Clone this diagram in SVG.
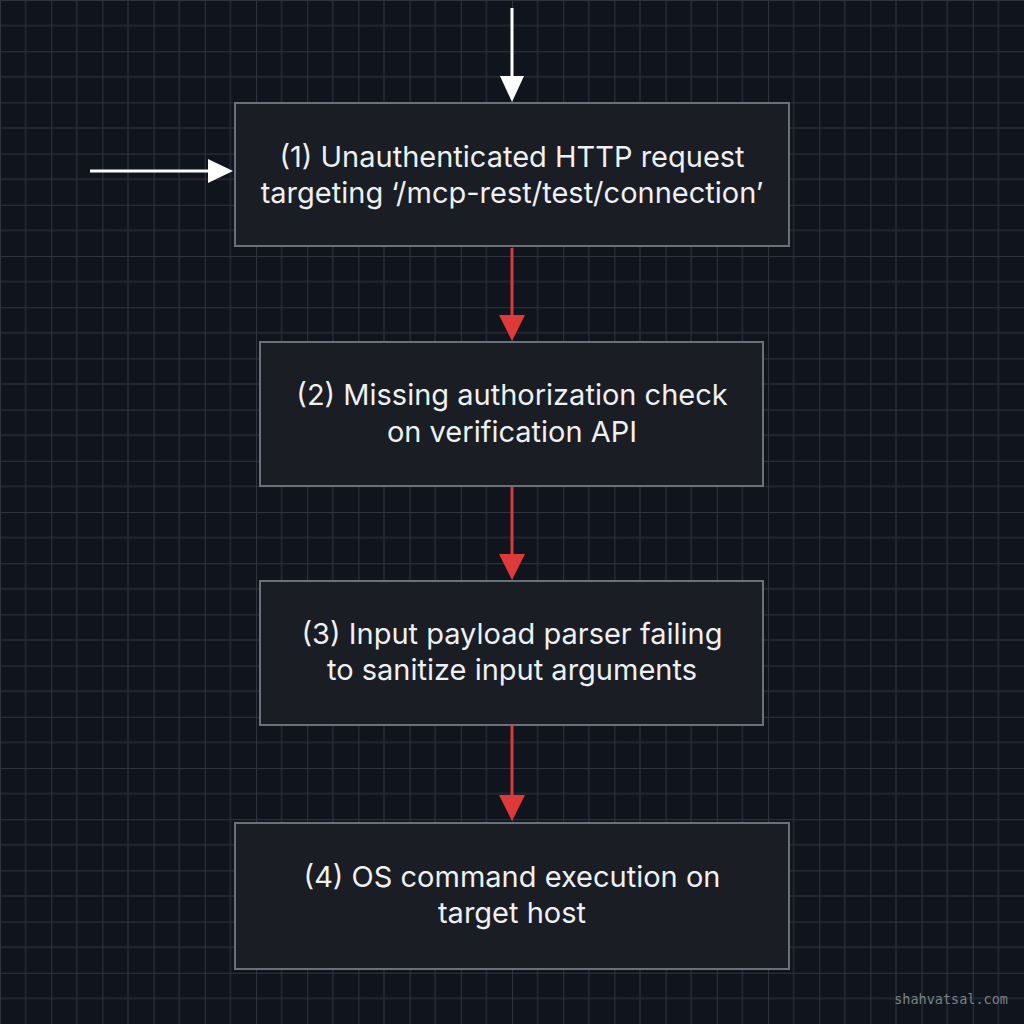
<svg xmlns="http://www.w3.org/2000/svg" width="1024" height="1024" viewBox="0 0 1024 1024">
<defs>
<pattern id="grid" width="51.2" height="51.2" patternUnits="userSpaceOnUse">
<path d="M25.6 0V51.2M0 25.6H51.2" stroke="#262b35" stroke-width="1.5" fill="none"/>
<path d="M0 0V51.2M0 0H51.2" stroke="#2f343e" stroke-width="2" fill="none"/>
</pattern>
<style>
.box{fill:#1a1d24;stroke:#6c7079;stroke-width:2}
.t{font-family:Inter,"Noto Sans",sans-serif;font-size:29px;fill:#eef0f3;text-anchor:middle}
.wl{stroke:#ffffff;stroke-width:3;fill:none}
.rl{stroke:#d9393b;stroke-width:3;fill:none}
.wh{fill:#ffffff}
.rd{fill:#e0393b}
.wm{font-family:"DejaVu Sans Mono",monospace;font-size:13.5px;fill:#7c818a}
</style>
</defs>
<rect width="1024" height="1024" fill="#10141c"/>
<rect width="1024" height="1024" fill="url(#grid)"/>
<g id="connectors">
<line class="wl" x1="512" y1="8" x2="512" y2="80"/>
<path class="wh" d="M500 76L512 102L524 76z"/>
<line class="wl" x1="90" y1="171" x2="212" y2="171"/>
<path class="wh" d="M208 159L233 171L208 183z"/>
<line class="rl" x1="512" y1="248" x2="512" y2="318"/>
<path class="rd" d="M499 315L512 341L525 315z"/>
<line class="rl" x1="512" y1="487" x2="512" y2="556"/>
<path class="rd" d="M499 554L512 580L525 554z"/>
<line class="rl" x1="512" y1="726" x2="512" y2="797"/>
<path class="rd" d="M499 795L512 821L525 795z"/>
</g>
<g id="node1">
<rect class="box" x="235" y="103" width="554" height="143"/>
<text class="t" x="512" y="167">(1) Unauthenticated HTTP request</text>
<text class="t" x="512" y="203">targeting ‘/mcp-rest/test/connection’</text>
</g>
<g id="node2">
<rect class="box" x="260" y="342" width="503" height="144"/>
<text class="t" x="512" y="405">(2) Missing authorization check</text>
<text class="t" x="512" y="442">on verification API</text>
</g>
<g id="node3">
<rect class="box" x="260" y="581" width="503" height="144"/>
<text class="t" x="512" y="644">(3) Input payload parser failing</text>
<text class="t" x="512" y="680">to sanitize input arguments</text>
</g>
<g id="node4">
<rect class="box" x="235" y="823" width="554" height="146"/>
<text class="t" x="512" y="887">(4) OS command execution on</text>
<text class="t" x="512" y="923">target host</text>
</g>
<text class="wm" x="1008" y="1004" text-anchor="end">shahvatsal.com</text>
</svg>
